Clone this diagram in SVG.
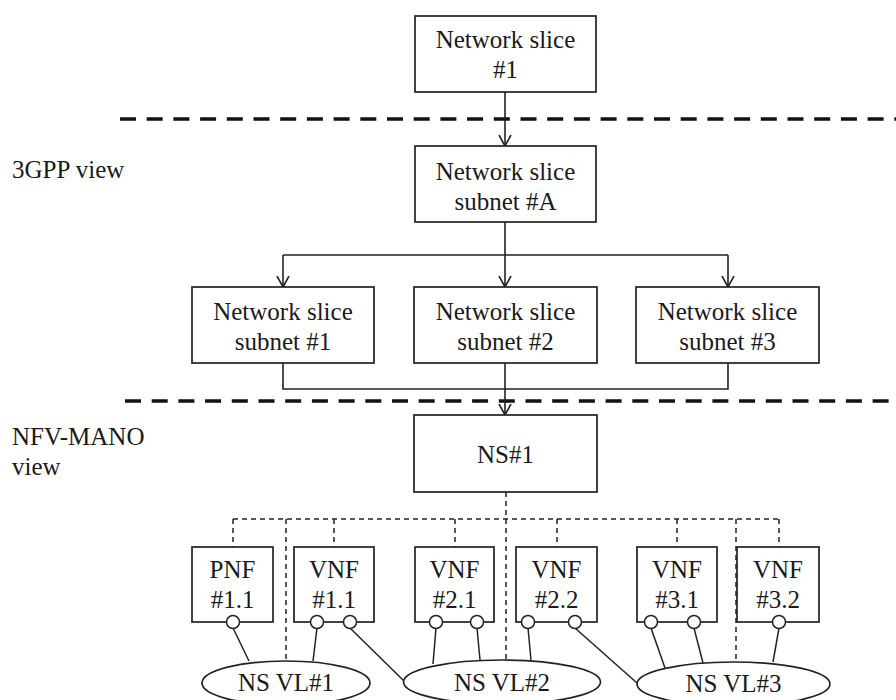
<svg xmlns="http://www.w3.org/2000/svg" width="896" height="700" viewBox="0 0 896 700">
  <defs>
    <style>
      .box { fill: #fff; stroke: #222; stroke-width: 1.7; }
      .t { font-family: 'Liberation Serif', Tinos, 'Times New Roman', 'Noto Serif', 'DejaVu Serif', serif; font-size: 25px; fill: #1a1a1a; text-anchor: middle; }
      .lbl { font-family: 'Liberation Serif', Tinos, 'Times New Roman', 'Noto Serif', 'DejaVu Serif', serif; font-size: 25px; fill: #1a1a1a; }
      .con { fill: none; stroke: #222; stroke-width: 1.6; }
      .thin { fill: none; stroke: #222; stroke-width: 1.5; }
      .dash { fill: none; stroke: #222; stroke-width: 1.5; stroke-dasharray: 5 4; }
      .sep { fill: none; stroke: #111; stroke-width: 3.6; stroke-dasharray: 16 10.7; }
      .port { fill: #fff; stroke: #222; stroke-width: 1.5; }
      .vl { fill: #fff; stroke: #222; stroke-width: 1.7; }
    </style>
    <marker id="arr" markerUnits="userSpaceOnUse" markerWidth="12" markerHeight="14" viewBox="0 0 12 14" refX="11" refY="7" orient="auto">
      <path d="M0,1 L11,7 L0,13" fill="none" stroke="#222" stroke-width="1.6"/>
    </marker>
  </defs>

  <g id="separators">
    <line class="sep" x1="120" y1="119" x2="896" y2="119"/>
    <line class="sep" x1="125" y1="401" x2="896" y2="401"/>
  </g>
  <g id="labels">
    <text class="lbl" x="12" y="178">3GPP view</text>
    <text class="lbl" x="12" y="445">NFV-MANO</text>
    <text class="lbl" x="12" y="475">view</text>
  </g>

  <g id="connectors">
    <line class="con" x1="505" y1="92" x2="505" y2="146" marker-end="url(#arr)"/>
    <line class="con" x1="505" y1="222" x2="505" y2="255"/>
    <line class="con" x1="283" y1="255" x2="728" y2="255"/>
    <line class="con" x1="283" y1="255" x2="283" y2="287" marker-end="url(#arr)"/>
    <line class="con" x1="505" y1="255" x2="505" y2="287" marker-end="url(#arr)"/>
    <line class="con" x1="728" y1="255" x2="728" y2="287" marker-end="url(#arr)"/>
    <polyline class="con" points="283,363 283,389 728,389 728,363"/>
    <line class="con" x1="505" y1="363" x2="505" y2="415" marker-end="url(#arr)"/>

    <line class="dash" x1="506" y1="492" x2="506" y2="660"/>
    <line class="dash" x1="233" y1="519" x2="779" y2="519"/>
    <line class="dash" x1="233" y1="519" x2="233" y2="547"/>
    <line class="dash" x1="334" y1="519" x2="334" y2="547"/>
    <line class="dash" x1="455" y1="519" x2="455" y2="547"/>
    <line class="dash" x1="557" y1="519" x2="557" y2="547"/>
    <line class="dash" x1="677" y1="519" x2="677" y2="547"/>
    <line class="dash" x1="779" y1="519" x2="779" y2="547"/>
    <line class="dash" x1="286" y1="519" x2="286" y2="661"/>
    <line class="dash" x1="736" y1="519" x2="736" y2="662"/>

    <line class="thin" x1="233" y1="628" x2="249" y2="661"/>
    <line class="thin" x1="317" y1="628" x2="313" y2="661"/>
    <line class="thin" x1="350" y1="628" x2="404" y2="681"/>
    <line class="thin" x1="436" y1="628" x2="433" y2="664"/>
    <line class="thin" x1="477" y1="628" x2="480" y2="660"/>
    <line class="thin" x1="528" y1="628" x2="531" y2="660"/>
    <line class="thin" x1="575" y1="628" x2="637" y2="683"/>
    <line class="thin" x1="651" y1="628" x2="665" y2="668"/>
    <line class="thin" x1="694" y1="628" x2="703" y2="663"/>
    <line class="thin" x1="779" y1="628" x2="773" y2="662"/>
  </g>

  <g id="ns1">
    <rect class="box" x="415" y="16" width="181" height="76"/>
    <text class="t" x="505.5" y="48">Network slice</text>
    <text class="t" x="505.5" y="78">#1</text>
  </g>
  <g id="nssA">
    <rect class="box" x="415" y="146" width="181" height="76"/>
    <text class="t" x="505.5" y="180">Network slice</text>
    <text class="t" x="505.5" y="210">subnet #A</text>
  </g>
  <g id="nss1">
    <rect class="box" x="192" y="287" width="182" height="76"/>
    <text class="t" x="283" y="320">Network slice</text>
    <text class="t" x="283" y="350">subnet #1</text>
  </g>
  <g id="nss2">
    <rect class="box" x="414" y="287" width="183" height="76"/>
    <text class="t" x="505.5" y="320">Network slice</text>
    <text class="t" x="505.5" y="350">subnet #2</text>
  </g>
  <g id="nss3">
    <rect class="box" x="636" y="287" width="183" height="76"/>
    <text class="t" x="727.5" y="320">Network slice</text>
    <text class="t" x="727.5" y="350">subnet #3</text>
  </g>

  <g id="nsNS1">
    <rect class="box" x="414" y="415" width="183" height="77"/>
    <text class="t" x="505.5" y="463">NS#1</text>
  </g>
  <g id="pnf11">
    <rect class="box" x="192" y="547" width="81" height="75"/>
    <text class="t" x="232.5" y="578">PNF</text>
    <text class="t" x="232.5" y="608">#1.1</text>
    <circle class="port" cx="233" cy="622" r="6.5"/>
  </g>
  <g id="vnf11">
    <rect class="box" x="294" y="547" width="80" height="75"/>
    <text class="t" x="334" y="578">VNF</text>
    <text class="t" x="334" y="608">#1.1</text>
    <circle class="port" cx="317" cy="622" r="6.5"/>
    <circle class="port" cx="350" cy="622" r="6.5"/>
  </g>
  <g id="vnf21">
    <rect class="box" x="415" y="547" width="79" height="75"/>
    <text class="t" x="454.5" y="578">VNF</text>
    <text class="t" x="454.5" y="608">#2.1</text>
    <circle class="port" cx="436" cy="622" r="6.5"/>
    <circle class="port" cx="477" cy="622" r="6.5"/>
  </g>
  <g id="vnf22">
    <rect class="box" x="516" y="547" width="81" height="75"/>
    <text class="t" x="556.5" y="578">VNF</text>
    <text class="t" x="556.5" y="608">#2.2</text>
    <circle class="port" cx="528" cy="622" r="6.5"/>
    <circle class="port" cx="575" cy="622" r="6.5"/>
  </g>
  <g id="vnf31">
    <rect class="box" x="637" y="547" width="80" height="75"/>
    <text class="t" x="677" y="578">VNF</text>
    <text class="t" x="677" y="608">#3.1</text>
    <circle class="port" cx="651" cy="622" r="6.5"/>
    <circle class="port" cx="694" cy="622" r="6.5"/>
  </g>
  <g id="vnf32">
    <rect class="box" x="737" y="547" width="82" height="75"/>
    <text class="t" x="778" y="578">VNF</text>
    <text class="t" x="778" y="608">#3.2</text>
    <circle class="port" cx="779" cy="622" r="6.5"/>
  </g>

  <g id="vl1">
    <ellipse class="vl" cx="286" cy="683" rx="84" ry="22"/>
    <text class="t" x="286" y="691">NS VL#1</text>
  </g>
  <g id="vl2">
    <ellipse class="vl" cx="502" cy="682" rx="98.5" ry="22"/>
    <text class="t" x="502" y="691">NS VL#2</text>
  </g>
  <g id="vl3">
    <ellipse class="vl" cx="733.5" cy="684" rx="96.5" ry="22"/>
    <text class="t" x="733.5" y="692">NS VL#3</text>
  </g>
</svg>
